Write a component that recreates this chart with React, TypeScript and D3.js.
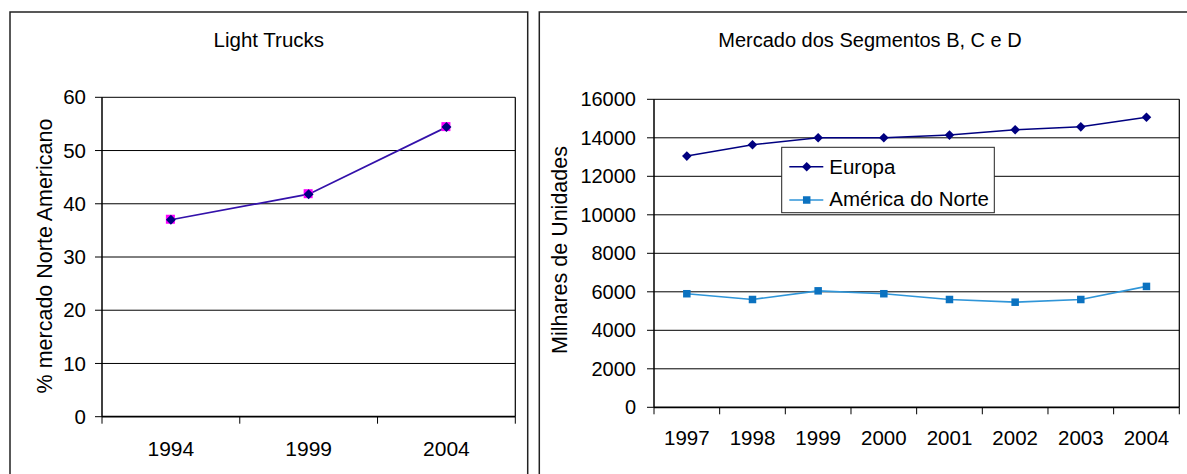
import React from 'react';
import * as d3 from 'd3';

// ---- Data: Light Trucks ----
const ltCategories = ['1994', '1999', '2004'];
const ltValues = [37, 41.8, 54.4];
const ltTicks = [0, 10, 20, 30, 40, 50, 60];

// ---- Data: Mercado dos Segmentos B, C e D ----
const mkCategories = ['1997', '1998', '1999', '2000', '2001', '2002', '2003', '2004'];
const europa = [13050, 13640, 14000, 14000, 14140, 14420, 14570, 15070];
const americaNorte = [5900, 5600, 6050, 5900, 5600, 5460, 5600, 6280];
const mkTicks = [0, 2000, 4000, 6000, 8000, 10000, 12000, 14000, 16000];

const FONT = '"Liberation Sans", Arial, sans-serif';

function Diamond({ x, y, r, fill }: { x: number; y: number; r: number; fill: string }) {
  return <path d={`M${x},${y - r}L${x + r},${y}L${x},${y + r}L${x - r},${y}Z`} fill={fill} />;
}

function Square({ x, y, s, fill }: { x: number; y: number; s: number; fill: string }) {
  return <rect x={x - s / 2} y={y - s / 2} width={s} height={s} fill={fill} />;
}

function LightTrucks() {
  const L = 102, R = 515.3, T = 97.3, B = 416.7;
  const x = d3.scaleBand<string>().domain(ltCategories).range([L, R]);
  const y = d3.scaleLinear().domain([0, 60]).range([B, T]);
  const cx = (c: string) => (x(c) as number) + x.bandwidth() / 2;
  const line = d3.line<number>().x((_, i) => cx(ltCategories[i])).y((v) => y(v));
  const bounds = [...ltCategories.map((c) => x(c) as number), R];
  return (
    <g>
      <rect x={10} y={12} width={517.7} height={480} fill="none" stroke="#222" strokeWidth={1.5} />
      <text x={268.8} y={47} textAnchor="middle" fontFamily={FONT} fontSize={20.5}>Light Trucks</text>
      {ltTicks.map((t) => (
        <g key={t}>
          {t > 0 && <line x1={L} x2={R} y1={y(t)} y2={y(t)} stroke="#000" strokeWidth={1} />}
          <line x1={L - 7} x2={L} y1={y(t)} y2={y(t)} stroke="#000" strokeWidth={1} />
          <text x={L - 16} y={y(t)} dy="0.35em" textAnchor="end" fontFamily={FONT} fontSize={20.5}>{t}</text>
        </g>
      ))}
      <line x1={R} x2={R} y1={T} y2={B} stroke="#000" strokeWidth={1.2} />
      <line x1={L} x2={L} y1={T} y2={B} stroke="#000" strokeWidth={1.5} />
      <line x1={L} x2={R} y1={B} y2={B} stroke="#000" strokeWidth={1.8} />
      {bounds.map((b, i) => (
        <line key={i} x1={b} x2={b} y1={B} y2={B + 7} stroke="#000" strokeWidth={1} />
      ))}
      {ltCategories.map((c) => (
        <text key={c} x={cx(c)} y={456} textAnchor="middle" fontFamily={FONT} fontSize={21}>{c}</text>
      ))}
      <text transform={`translate(52,256) rotate(-90)`} textAnchor="middle" fontFamily={FONT} fontSize={21.5}>
        % mercado Norte Americano
      </text>
      <path d={line(ltValues) || ''} fill="none" stroke="#3311aa" strokeWidth={1.7} />
      {ltValues.map((v, i) => (
        <g key={i}>
          <Square x={cx(ltCategories[i]) - 0.5} y={y(v) - 0.5} s={9} fill="#ff00ff" />
          <Diamond x={cx(ltCategories[i])} y={y(v)} r={5} fill="#000080" />
        </g>
      ))}
    </g>
  );
}

function Mercado() {
  const L = 654, R = 1179.3, T = 99.3, B = 407.3;
  const x = d3.scaleBand<string>().domain(mkCategories).range([L, R]);
  const y = d3.scaleLinear().domain([0, 16000]).range([B, T]);
  const cx = (c: string) => (x(c) as number) + x.bandwidth() / 2;
  const line = d3.line<number>().x((_, i) => cx(mkCategories[i])).y((v) => y(v));
  const bounds = [...mkCategories.map((c) => x(c) as number), R];
  const eu = '#000080';
  const naLine = '#2f95d8';
  const naMark = '#0b72c0';
  return (
    <g>
      <rect x={539.3} y={12} width={700} height={480} fill="none" stroke="#222" strokeWidth={1.5} />
      <text x={870} y={47} textAnchor="middle" fontFamily={FONT} fontSize={20}>Mercado dos Segmentos B, C e D</text>
      {mkTicks.map((t) => (
        <g key={t}>
          {t > 0 && <line x1={L} x2={R} y1={y(t)} y2={y(t)} stroke="#000" strokeWidth={1} />}
          <line x1={L - 7} x2={L} y1={y(t)} y2={y(t)} stroke="#000" strokeWidth={1} />
          <text x={L - 18} y={y(t)} dy="0.35em" textAnchor="end" fontFamily={FONT} fontSize={20}>{t}</text>
        </g>
      ))}
      <line x1={R} x2={R} y1={T} y2={B} stroke="#000" strokeWidth={1.2} />
      <line x1={L} x2={L} y1={T} y2={B} stroke="#000" strokeWidth={1.5} />
      <line x1={L} x2={R} y1={B} y2={B} stroke="#000" strokeWidth={1.8} />
      {bounds.map((b, i) => (
        <line key={i} x1={b} x2={b} y1={B} y2={B + 7} stroke="#000" strokeWidth={1} />
      ))}
      {mkCategories.map((c) => (
        <text key={c} x={cx(c)} y={445} textAnchor="middle" fontFamily={FONT} fontSize={20.5}>{c}</text>
      ))}
      <text transform={`translate(566.5,250) rotate(-90)`} textAnchor="middle" fontFamily={FONT} fontSize={21.5}>
        Milhares de Unidades
      </text>
      <path d={line(europa) || ''} fill="none" stroke={eu} strokeWidth={1.5} />
      {europa.map((v, i) => (
        <Diamond key={i} x={cx(mkCategories[i])} y={y(v)} r={4.8} fill={eu} />
      ))}
      <path d={line(americaNorte) || ''} fill="none" stroke={naLine} strokeWidth={1.7} />
      {americaNorte.map((v, i) => (
        <Square key={i} x={cx(mkCategories[i])} y={y(v)} s={7.5} fill={naMark} />
      ))}
      {/* Legend */}
      <rect x={781.7} y={147.3} width={212.6} height={65.4} fill="#fff" stroke="#222" strokeWidth={1} />
      <line x1={789.3} x2={823.3} y1={166.7} y2={166.7} stroke={eu} strokeWidth={1.5} />
      <Diamond x={806.7} y={166.7} r={4.8} fill={eu} />
      <text x={829.3} y={173.5} fontFamily={FONT} fontSize={20.5}>Europa</text>
      <line x1={789.3} x2={823.3} y1={200} y2={200} stroke={naLine} strokeWidth={1.7} />
      <Square x={806.7} y={200} s={7.5} fill={naMark} />
      <text x={829.3} y={205.5} fontFamily={FONT} fontSize={20.5}>América do Norte</text>
    </g>
  );
}

export default function App() {
  return (
    <svg
      width={1187}
      height={474}
      style={{ position: 'absolute', left: 0, top: 0, background: '#fff' }}
    >
      <rect width={1187} height={474} fill="#fff" />
      <LightTrucks />
      <Mercado />
    </svg>
  );
}
